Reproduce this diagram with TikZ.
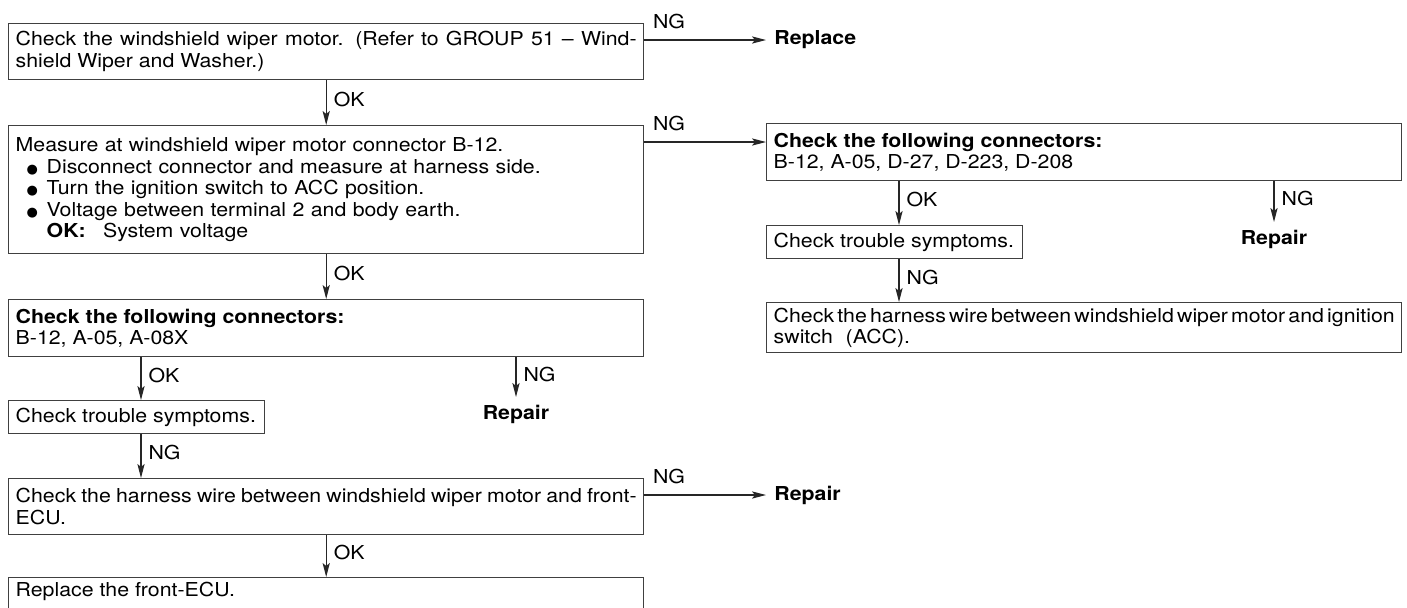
\documentclass[tikz,border=0pt]{standalone}
\usepackage{fontspec}
\setmainfont[FakeStretch=1.11]{TeX Gyre Heros}
\newfontfamily\dotfont{DejaVu Sans}
\usepackage{tikz}
\usetikzlibrary{arrows.meta, positioning}

\newcommand{\wbullet}{\hspace*{5.5pt}\makebox[10pt][l]{{\dotfont\fontsize{6.5pt}{6.5pt}\selectfont ●}}}

\begin{document}
\begin{tikzpicture}[x=0.5pt, y=-0.5pt,
    every node/.style={font=\fontsize{9.6pt}{10.8pt}\selectfont},
    box/.style={draw=black!75, line width=0.7pt, anchor=north west, inner xsep=3.5pt, inner ysep=2pt, text width=310.5pt, align=justify},
    small/.style={box, text width=121pt},
    result/.style={inner sep=4pt, font=\fontsize{9.6pt}{10.8pt}\selectfont\bfseries},
    flow/.style={draw=black!85, line width=0.6pt, -{Stealth[length=7pt, width=3.6pt, inset=1.5pt]}},
    tag/.style={inner sep=0pt, anchor=west, xshift=3.5pt},
    ngtag/.style={inner sep=0pt, anchor=south west, xshift=4pt, yshift=5.5pt}]
    \useasboundingbox (0,0) rectangle (1407,607);

    % left column
    \node[box, minimum height=28pt] (motor) at (8,23) {Check the windshield wiper motor. (Refer to GROUP 51 -- Wind-\linebreak shield Wiper and Washer.)};
    \node[box, align=left, minimum height=64pt] (measure) at (8,125) {Measure at windshield wiper motor connector B-12.\\
        \wbullet Disconnect connector and measure at harness side.\\
        \wbullet Turn the ignition switch to ACC position.\\
        \wbullet Voltage between terminal 2 and body earth.\\
        \hspace*{15.5pt}\textbf{OK:}\hspace{0.9em}System voltage};
    \node[box, minimum height=28.5pt] (connL) at (8,299) {\textbf{Check the following connectors:}\\B-12, A-05, A-08X};
    \node[small, minimum height=16.5pt] (troubleL) at (8,400) {Check trouble symptoms.};
    \node[box, minimum height=28pt] (harnessL) at (8,478) {Check the harness wire between windshield wiper motor and front-\linebreak ECU.};
    \node[box, text depth=12pt] (ecu) at (8,577) {Replace the front-ECU.};

    % right column
    \node[box, minimum height=28.5pt] (connR) at (766,123) {\textbf{Check the following connectors:}\\B-12, A-05, D-27, D-223, D-208};
    \node[small, minimum height=16.5pt] (troubleR) at (766,225) {Check trouble symptoms.};
    \node[box, align=left, minimum height=25pt] (harnessR) at (766,302) {\makebox[\linewidth][s]{\spaceskip=1pt plus 3pt\relax Check the harness wire between windshield wiper motor and ignition}\\switch \ (ACC).};

    % end results
    \node[result, anchor=west] (replace) at (766,40) {Replace};
    \node[result, anchor=north] (repairL) at (516,397) {Repair};
    \node[result, anchor=north] (repairR) at (1274,222) {Repair};
    \node[result, anchor=west] (repairH) at (766,495) {Repair};

    \coordinate (ngB) at ([yshift=-8.5pt]measure.north east);

    \draw[flow] ([yshift=-8.5pt]motor.north east) -- (replace.west) node[ngtag, pos=0] {NG};
    \draw[flow] (motor.south) -- (measure.north) node[tag, pos=0.42] {OK};
    \draw[flow] (ngB) -- (ngB -| connR.west) node[ngtag, pos=0] {NG};
    \draw[flow] (measure.south) -- (connL.north) node[tag, pos=0.42] {OK};
    \draw[flow] ([xshift=66.5pt]connL.south west) -- ([xshift=66.5pt]troubleL.north west) node[tag, pos=0.42] {OK};
    \draw[flow] ([xshift=254pt]connL.south west) -- (repairL.north) node[tag, pos=0.42] {NG};
    \draw[flow] ([xshift=66.5pt]troubleL.south west) -- ([xshift=66.5pt]harnessL.north west) node[tag, pos=0.42] {NG};
    \draw[flow] ([yshift=-8.5pt]harnessL.north east) -- (repairH.west) node[ngtag, pos=0] {NG};
    \draw[flow] (harnessL.south) -- (ecu.north) node[tag, pos=0.42] {OK};
    \draw[flow] ([xshift=66.5pt]connR.south west) -- ([xshift=66.5pt]troubleR.north west) node[tag, pos=0.42] {OK};
    \draw[flow] ([xshift=254pt]connR.south west) -- (repairR.north) node[tag, pos=0.42] {NG};
    \draw[flow] ([xshift=66.5pt]troubleR.south west) -- ([xshift=66.5pt]harnessR.north west) node[tag, pos=0.42] {NG};
\end{tikzpicture}
\end{document}
